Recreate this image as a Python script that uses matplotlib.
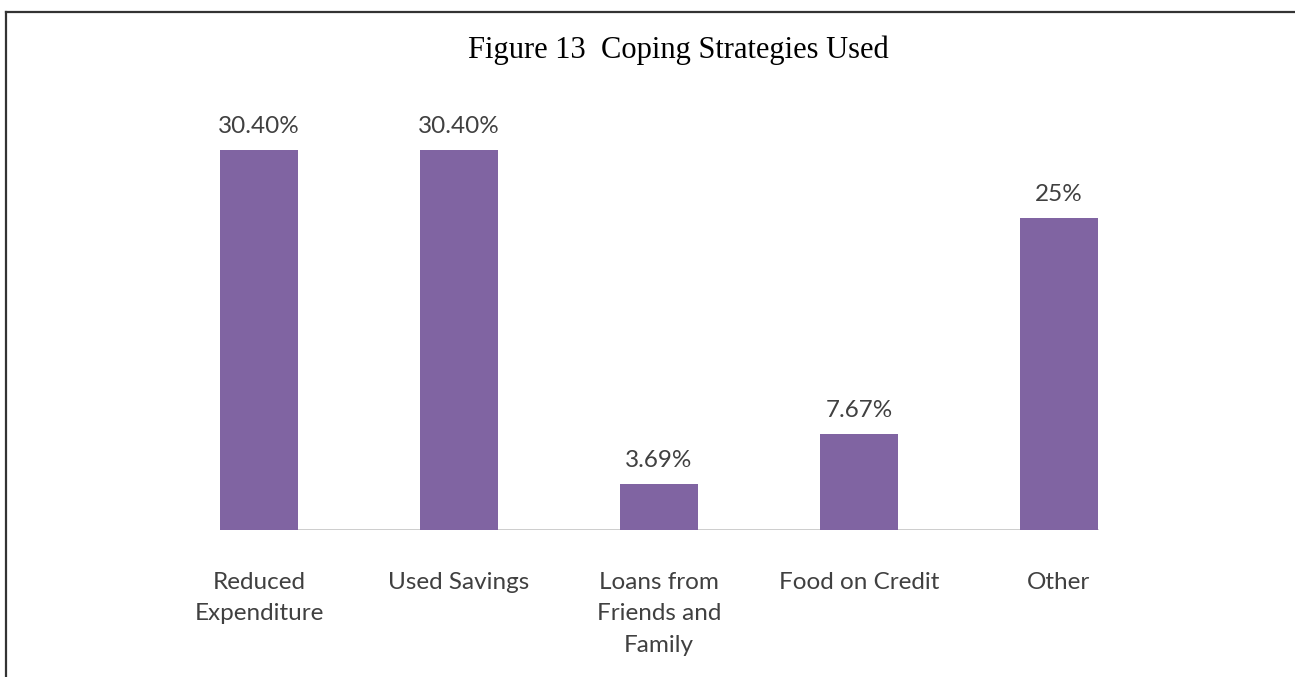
import matplotlib.pyplot as plt
from matplotlib.lines import Line2D

categories = ["Reduced\nExpenditure", "Used Savings", "Loans from\nFriends and\nFamily",
              "Food on Credit", "Other"]
values = [30.40, 30.40, 3.69, 7.67, 25]
value_labels = ["30.40%", "30.40%", "3.69%", "7.67%", "25%"]

W, H = 1295, 677
fig = plt.figure(figsize=(W / 100, H / 100), dpi=100)

# frame around the figure (top and left edges only)
fig.add_artist(Line2D([6 / W, 1.0], [1 - 12 / H, 1 - 12 / H], color="#333333", lw=1.6))
fig.add_artist(Line2D([6 / W, 6 / W], [0.0, 1 - 12 / H], color="#333333", lw=1.6))

fig.text(678 / W, 1 - 50 / H, "Figure 13  Coping Strategies Used", ha="center", va="center",
         fontsize=22, family="Liberation Serif", color="black")

ax = fig.add_axes([159 / W, (H - 530) / H, 1000 / W, 437.5 / H])
x = list(range(len(categories)))
ax.bar(x, values, width=0.39, color="#8064A2", zorder=2)
ax.set_xlim(-0.5, 4.5)
ax.set_ylim(0, 35)

for xi, v, lab in zip(x, values, value_labels):
    ax.annotate(lab, (xi, v), xytext=(0, 12), textcoords="offset points", ha="center",
                va="baseline", fontsize=17.5, family="Lato", color="#404040")

for s in ax.spines.values():
    s.set_visible(False)
ax.axhline(0, xmin=0.126, xmax=0.938, color="#BFBFBF", lw=1.8, zorder=1)

ax.set_yticks([])
ax.set_xticks(x)
ax.set_xticklabels(categories, fontsize=17.5, family="Lato", color="#404040", linespacing=1.62)
ax.tick_params(axis="x", length=0, pad=30)

fig.savefig("out.png", dpi=100, facecolor="white")
